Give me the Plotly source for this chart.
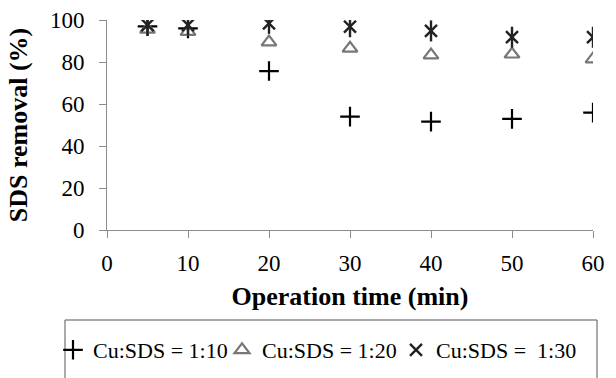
import plotly.graph_objects as go

# Operation time (min)
time_min = [5, 10, 20, 30, 40, 50, 60]

# SDS removal (%) for each Cu:SDS molar ratio
removal_1_10 = [97.0, 96.0, 75.7, 54.0, 51.6, 52.9, 55.9]
removal_1_20 = [95.5, 94.5, 89.5, 86.5, 83.3, 83.7, 81.4]
removal_1_30 = [97.6, 97.6, 98.4, 96.8, 94.8, 91.8, 91.8]

x_ticks = [0, 10, 20, 30, 40, 50, 60]
y_ticks = [0, 20, 40, 60, 80, 100]

FONT = "Liberation Serif, Times New Roman, serif"
AXIS_GRAY = "#8c8c8c"

W, H = 616, 378
ML, MR, MT, MB = 107, 23, 20, 148
PW, PH = W - ML - MR, H - MT - MB


def px_x(px):
    """Horizontal pixel position -> paper fraction of the plot area."""
    return (px - ML) / PW


def px_y(py):
    """Vertical pixel position (from top) -> paper fraction of the plot area."""
    return (H - MB - py) / PH


fig = go.Figure()

fig.add_trace(go.Scatter(
    x=time_min, y=removal_1_10, mode="markers", name="Cu:SDS = 1:10",
    legend="legend",
    marker=dict(symbol="cross-thin-open", size=14, color="black",
                line=dict(color="black", width=2.2)),
))
fig.add_trace(go.Scatter(
    x=time_min, y=removal_1_20, mode="markers", name="Cu:SDS = 1:20",
    legend="legend2",
    marker=dict(symbol="triangle-up-open", size=13, color="#777777",
                line=dict(color="#777777", width=2.2)),
))
# six-pointed star: diagonal cross plus a vertical bar
fig.add_trace(go.Scatter(
    x=time_min, y=removal_1_30, mode="markers", name="Cu:SDS =\u00a0 1:30",
    legend="legend3", legendgroup="r30",
    marker=dict(symbol="x-thin-open", size=12, color="#222222",
                line=dict(color="#222222", width=2.4)),
))
fig.add_trace(go.Scatter(
    x=time_min, y=removal_1_30, mode="markers", showlegend=False,
    legend="legend3", legendgroup="r30", hoverinfo="skip",
    marker=dict(symbol="line-ns-open", size=15, color="#222222",
                line=dict(color="#222222", width=2.4)),
))

legend_common = dict(
    orientation="h", xanchor="left", yanchor="middle", y=px_y(350),
    borderwidth=0, bgcolor="rgba(0,0,0,0)", font=dict(size=22, family=FONT),
    itemwidth=30,
)

fig.update_layout(
    width=W, height=H,
    margin=dict(l=ML, r=MR, t=MT, b=MB, autoexpand=False),
    paper_bgcolor="white", plot_bgcolor="white",
    font=dict(family=FONT, color="black", size=23),
    xaxis=dict(
        range=[0, 60], tickvals=x_ticks, showgrid=False, zeroline=False,
        showline=True, linecolor=AXIS_GRAY, linewidth=1,
        ticks="outside", ticklen=7, tickcolor=AXIS_GRAY,
        tickfont=dict(size=23), ticklabelstandoff=5, ticklabeloverflow="allow",
        title=dict(text="<b>Operation time (min)</b>", font=dict(size=26), standoff=12),
    ),
    yaxis=dict(
        range=[0, 100], tickvals=y_ticks, showgrid=False, zeroline=False,
        showline=True, linecolor=AXIS_GRAY, linewidth=1,
        ticks="outside", ticklen=7, tickcolor=AXIS_GRAY,
        tickfont=dict(size=23), ticklabelstandoff=10, ticklabeloverflow="allow",
        title=dict(text="<b>SDS removal (%)</b>", font=dict(size=26), standoff=14),
    ),
    legend=dict(legend_common, x=px_x(73 - 20)),
    legend2=dict(legend_common, x=px_x(242 - 20)),
    legend3=dict(legend_common, x=px_x(416 - 20)),
    showlegend=True,
    shapes=[dict(
        type="rect", xref="paper", yref="paper",
        x0=px_x(65), x1=px_x(597), y0=px_y(390), y1=px_y(320),
        line=dict(color="#555555", width=1), fillcolor="rgba(0,0,0,0)",
        layer="below",
    )],
)

fig.write_html("out.html")
